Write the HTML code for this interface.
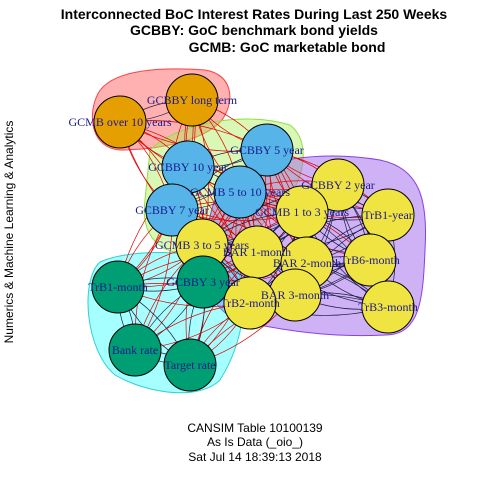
<!DOCTYPE html>
<html><head><meta charset="utf-8"><style>
body{margin:0;background:#fff;width:480px;height:480px;overflow:hidden}
svg{display:block}
.t{font-family:"Liberation Sans",sans-serif;font-weight:bold;font-size:14px}
.s{font-family:"Liberation Sans",sans-serif;font-size:12px}
.lab{font-family:"Liberation Serif",serif;font-size:12px;fill:#1a1a8c}
</style></head><body>
<svg id="chart" width="480" height="480">
<text class="t" x="254" y="19" text-anchor="middle">Interconnected BoC Interest Rates During Last 250 Weeks</text>
<text class="t" x="254" y="35" text-anchor="middle">GCBBY: GoC benchmark bond yields</text>
<text class="t" x="287" y="52" text-anchor="middle">GCMB: GoC marketable bond</text>
<text class="s" transform="translate(13,232) rotate(-90)" text-anchor="middle">Numerics &amp; Machine Learning &amp; Analytics</text>
<text class="s" x="255" y="432" text-anchor="middle">CANSIM Table 10100139</text>
<text class="s" x="255" y="446" text-anchor="middle">As Is Data (_oio_)</text>
<text class="s" x="255" y="461" text-anchor="middle">Sat Jul 14 18:39:13 2018</text>
<path d="M96,98 C105,72 150,66 205,70 C232,74 236,100 222,120 C205,140 160,150 120,150 C92,148 88,118 96,98Z" fill="rgba(255,80,80,0.45)" stroke="#ff4040"/>
<path d="M150,150 C175,125 240,110 290,125 C310,140 305,175 290,195 C270,225 235,245 195,252 C160,258 140,235 145,200Z" fill="rgba(170,240,90,0.45)" stroke="#90e040"/>
<path d="M230,180 C260,160 320,150 380,160 C420,168 428,200 425,250 C423,300 420,335 385,335 C330,338 280,330 235,320 C210,305 200,280 205,245 C210,210 215,190 230,180Z" fill="rgba(160,100,235,0.5)" stroke="#8a40e0"/>
<path d="M100,262 C130,248 200,250 235,265 C250,290 245,340 220,380 C200,400 150,395 115,375 C85,350 80,280 100,262Z" fill="rgba(0,255,255,0.35)" stroke="#30d0d0"/>
<g id="edges"></g><g id="nodes"></g>
</svg>
<script>
const names=["GCMB over 10 years","GCBBY long term","GCBBY 5 year","GCBBY 10 year","GCMB 5 to 10 years","GCBBY 7 year","GCBBY 2 year","GCMB 1 to 3 years","TrB1-year","GCMB 3 to 5 years","BAR 1-month","BAR 2-month","TrB6-month","GCBBY 3 year","TrB1-month","BAR 3-month","TrB2-month","TrB3-month","Bank rate","Target rate"];
const xs=[120,192,267,188,240,172,338,302,388,202,257,307,370,203,118,295,250,388,135,190];
const ys=[122,100,150,167,192,210,185,212,215,245,252,263,260,282,287,295,303,307,350,365];
const groups=[0,0,1,1,1,1,2,2,2,2,2,2,2,3,3,2,2,2,3,3];
const colors=["#e69f00","#56b4e9","#f0e442","#009e73"];
const NS="http://www.w3.org/2000/svg";
const eg=document.getElementById('edges'),ng=document.getElementById('nodes');
for(let i=0;i<names.length;i++)for(let j=i+1;j<names.length;j++){
  const d=Math.hypot(xs[i]-xs[j],ys[i]-ys[j]);if(d>150)continue;
  const same=groups[i]===groups[j];
  for(const k of [-1,1]){
    const mx=(xs[i]+xs[j])/2,my=(ys[i]+ys[j])/2,nx=-(ys[j]-ys[i])/d,ny=(xs[j]-xs[i])/d,c=k*d*0.15;
    const p=document.createElementNS(NS,'path');
    p.setAttribute('d',`M${xs[i]},${ys[i]} Q${mx+nx*c},${my+ny*c} ${xs[j]},${ys[j]}`);
    p.setAttribute('fill','none');p.setAttribute('stroke',same?'#1a1a40':'#e00000');p.setAttribute('stroke-width','0.7');
    
    
    eg.appendChild(p);}
}
for(let i=0;i<names.length;i++){
  const c=document.createElementNS(NS,'circle');
  c.setAttribute('cx',xs[i]);c.setAttribute('cy',ys[i]);c.setAttribute('r',26);
  c.setAttribute('fill',colors[groups[i]]);c.setAttribute('stroke','#000');
  
  
  ng.appendChild(c);
}
for(let i=0;i<names.length;i++){
  const t=document.createElementNS(NS,'text');
  t.setAttribute('x',xs[i]);t.setAttribute('y',ys[i]+4);t.setAttribute('text-anchor','middle');t.setAttribute('class','lab');
  t.textContent=names[i];
  
  
  ng.appendChild(t);
}
</script>
</body></html>
